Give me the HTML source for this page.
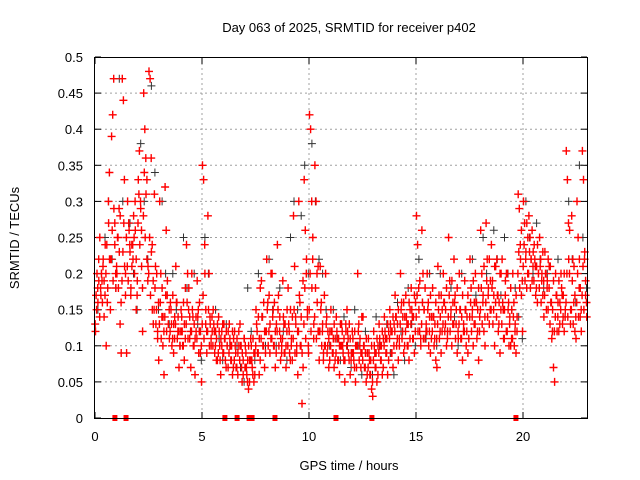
<!DOCTYPE html>
<html><head><meta charset="utf-8"><style>
body{margin:0;background:#fff}
svg{display:block;font-family:"Liberation Sans",sans-serif}
</style></head><body>
<svg id="chart" width="640" height="480" viewBox="0 0 640 480">
<rect width="640" height="480" fill="#fff"/>
<text x="349" y="32" font-size="13" text-anchor="middle">Day 063 of 2025, SRMTID for receiver p402</text>
<text transform="translate(19,238) rotate(-90)" font-size="13" text-anchor="middle">SRMTID / TECUs</text>
<text x="349" y="470" font-size="13" text-anchor="middle">GPS time / hours</text>
<g id="grid"></g><g id="axes"></g><g id="black"></g><g id="red"></g><g id="zeros"></g>
<rect x="94.5" y="57.5" width="493" height="361" fill="none" stroke="#000"/>
</svg>
<script>
const xTicks=[0,5,10,15,20];
const yTicks=[0,0.05,0.1,0.15,0.2,0.25,0.3,0.35,0.4,0.45,0.5];
const yTickLabels=["0","0.05","0.1","0.15","0.2","0.25","0.3","0.35","0.4","0.45","0.5"];
const redVals=[[0.12,0.15,0.18,0.22,0.25],[0.17,0.19,0.21,0.14,0.24],[0.1,0.16,0.3,0.34,0.22],[0.39,0.42,0.47,0.27,0.18],[0.2,0.25,0.29,0.13,0.09],[0.47,0.44,0.33,0.2,0.09],[0.3,0.27,0.24,0.17,0.21],[0.22,0.25,0.3,0.15,0.19],[0.33,0.37,0.3,0.26,0.12],[0.45,0.4,0.36,0.33,0.21],[0.48,0.47,0.36,0.24,0.13],[0.31,0.21,0.15,0.12,0.08],[0.3,0.2,0.14,0.1,0.06],[0.32,0.26,0.17,0.13,0.11],[0.16,0.13,0.11,0.09,0.14],[0.21,0.16,0.12,0.07,0.1],[0.15,0.12,0.1,0.08,0.18],[0.24,0.2,0.15,0.11,0.07],[0.2,0.14,0.1,0.06,0.12],[0.19,0.15,0.12,0.09,0.05],[0.35,0.33,0.24,0.13,0.09],[0.28,0.2,0.14,0.1,0.12],[0.15,0.12,0.1,0.08,0.13],[0.14,0.1,0.06,0.12,0.09],[0.13,0.11,0.07,0.1,0.12],[0.13,0.1,0.08,0.06,0.11],[0.12,0.09,0.07,0.06,0.1],[0.13,0.1,0.05,0.08,0.11],[0.1,0.07,0.05,0.04,0.08],[0.11,0.08,0.06,0.05,0.09],[0.15,0.12,0.09,0.06,0.18],[0.19,0.14,0.1,0.07,0.12],[0.22,0.16,0.12,0.09,0.2],[0.2,0.15,0.1,0.07,0.13],[0.24,0.17,0.12,0.08,0.1],[0.19,0.13,0.09,0.07,0.15],[0.18,0.12,0.08,0.1,0.14],[0.28,0.21,0.14,0.09,0.06],[0.3,0.16,0.1,0.02,0.07],[0.33,0.26,0.2,0.14,0.09],[0.42,0.4,0.3,0.22,0.13],[0.35,0.3,0.2,0.12,0.08],[0.21,0.16,0.12,0.08,0.1],[0.2,0.14,0.1,0.07,0.12],[0.15,0.12,0.09,0.07,0.11],[0.14,0.11,0.08,0.06,0.1],[0.13,0.1,0.08,0.05,0.12],[0.15,0.11,0.08,0.06,0.09],[0.12,0.09,0.07,0.05,0.1],[0.2,0.13,0.1,0.07,0.09],[0.14,0.1,0.07,0.05,0.09],[0.11,0.08,0.06,0.04,0.03],[0.12,0.09,0.07,0.05,0.1],[0.13,0.1,0.08,0.06,0.11],[0.14,0.11,0.09,0.06,0.12],[0.15,0.12,0.09,0.07,0.13],[0.17,0.14,0.11,0.08,0.1],[0.2,0.16,0.12,0.09,0.14],[0.17,0.13,0.1,0.08,0.15],[0.18,0.14,0.11,0.09,0.16],[0.28,0.24,0.18,0.12,0.1],[0.26,0.2,0.15,0.11,0.13],[0.2,0.16,0.12,0.09,0.14],[0.18,0.14,0.11,0.08,0.07],[0.21,0.17,0.12,0.09,0.15],[0.2,0.16,0.13,0.1,0.12],[0.25,0.19,0.14,0.1,0.16],[0.22,0.17,0.13,0.09,0.11],[0.2,0.15,0.11,0.08,0.13],[0.19,0.15,0.12,0.09,0.06],[0.22,0.18,0.14,0.1,0.16],[0.2,0.16,0.12,0.08,0.14],[0.26,0.2,0.16,0.12,0.1],[0.27,0.22,0.17,0.13,0.19],[0.24,0.19,0.15,0.1,0.21],[0.22,0.17,0.13,0.09,0.2],[0.22,0.15,0.11,0.17,0.2],[0.2,0.16,0.13,0.1,0.15],[0.2,0.16,0.12,0.09,0.14],[0.31,0.29,0.24,0.17,0.12],[0.3,0.27,0.22,0.18,0.25],[0.28,0.25,0.22,0.19,0.23],[0.24,0.21,0.18,0.16,0.2],[0.25,0.22,0.19,0.17,0.14],[0.23,0.2,0.18,0.15,0.21],[0.21,0.16,0.12,0.07,0.05],[0.2,0.17,0.14,0.12,0.16],[0.2,0.17,0.14,0.12,0.15],[0.37,0.33,0.27,0.2,0.15],[0.28,0.22,0.16,0.12,0.11],[0.3,0.25,0.18,0.14,0.12],[0.37,0.33,0.22,0.17,0.14]];
const redVals2=[[0.13,0.17,0.2,0.16,0.19,0.14],[0.18,0.2,0.16,0.22,0.19,0.17],[0.2,0.24,0.18,0.27,0.22,0.15],[0.22,0.26,0.19,0.29,0.24,0.2],[0.21,0.25,0.18,0.23,0.28,0.16],[0.19,0.23,0.27,0.21,0.17,0.25],[0.21,0.19,0.26,0.23,0.18,0.24],[0.24,0.28,0.2,0.26,0.22,0.17],[0.27,0.31,0.24,0.29,0.21,0.18],[0.28,0.34,0.25,0.31,0.22,0.19],[0.2,0.25,0.17,0.23,0.15,0.19],[0.15,0.18,0.13,0.2,0.11,0.16],[0.13,0.16,0.11,0.18,0.14,0.12],[0.14,0.17,0.12,0.19,0.13,0.15],[0.12,0.15,0.1,0.17,0.13,0.11],[0.13,0.16,0.11,0.14,0.12,0.1],[0.12,0.14,0.1,0.16,0.13,0.11],[0.13,0.16,0.11,0.18,0.14,0.12],[0.12,0.15,0.1,0.13,0.11,0.14],[0.11,0.14,0.09,0.16,0.12,0.1],[0.13,0.17,0.11,0.2,0.15,0.12],[0.12,0.15,0.1,0.13,0.11,0.14],[0.1,0.13,0.09,0.12,0.11,0.08],[0.09,0.12,0.08,0.11,0.1,0.13],[0.09,0.11,0.08,0.12,0.1,0.07],[0.09,0.11,0.08,0.1,0.12,0.07],[0.08,0.1,0.07,0.11,0.09,0.12],[0.08,0.1,0.07,0.09,0.06,0.11],[0.07,0.09,0.06,0.08,0.1,0.05],[0.08,0.1,0.07,0.11,0.09,0.06],[0.1,0.13,0.09,0.14,0.11,0.08],[0.11,0.14,0.1,0.16,0.12,0.09],[0.12,0.15,0.1,0.17,0.13,0.11],[0.11,0.14,0.1,0.16,0.12,0.09],[0.12,0.15,0.1,0.14,0.11,0.09],[0.11,0.14,0.09,0.13,0.1,0.12],[0.1,0.13,0.09,0.15,0.11,0.08],[0.11,0.15,0.09,0.13,0.1,0.12],[0.12,0.17,0.1,0.14,0.09,0.19],[0.13,0.18,0.11,0.22,0.15,0.1],[0.15,0.2,0.12,0.18,0.25,0.11],[0.14,0.18,0.11,0.16,0.21,0.12],[0.12,0.15,0.1,0.13,0.09,0.17],[0.1,0.13,0.09,0.12,0.11,0.08],[0.1,0.12,0.09,0.11,0.13,0.08],[0.09,0.12,0.08,0.11,0.1,0.13],[0.1,0.12,0.09,0.11,0.08,0.13],[0.1,0.12,0.09,0.13,0.11,0.08],[0.09,0.11,0.08,0.12,0.1,0.07],[0.1,0.12,0.08,0.11,0.09,0.14],[0.08,0.1,0.07,0.09,0.11,0.06],[0.07,0.09,0.06,0.08,0.1,0.05],[0.08,0.1,0.07,0.09,0.11,0.06],[0.09,0.11,0.08,0.1,0.12,0.07],[0.1,0.12,0.09,0.11,0.13,0.08],[0.11,0.13,0.09,0.12,0.14,0.1],[0.12,0.14,0.1,0.13,0.15,0.11],[0.13,0.15,0.11,0.14,0.16,0.1],[0.12,0.14,0.1,0.13,0.16,0.11],[0.13,0.15,0.11,0.14,0.17,0.12],[0.14,0.17,0.12,0.15,0.19,0.11],[0.13,0.16,0.11,0.15,0.18,0.12],[0.12,0.15,0.1,0.14,0.17,0.11],[0.12,0.14,0.1,0.13,0.16,0.11],[0.13,0.15,0.11,0.14,0.17,0.12],[0.13,0.16,0.12,0.15,0.18,0.11],[0.14,0.17,0.12,0.15,0.19,0.13],[0.13,0.16,0.11,0.15,0.18,0.12],[0.13,0.15,0.11,0.14,0.17,0.12],[0.12,0.15,0.1,0.14,0.17,0.11],[0.14,0.16,0.12,0.15,0.19,0.13],[0.13,0.16,0.11,0.15,0.18,0.12],[0.15,0.18,0.13,0.17,0.21,0.14],[0.16,0.19,0.14,0.18,0.22,0.15],[0.15,0.18,0.13,0.17,0.21,0.16],[0.14,0.17,0.12,0.16,0.2,0.15],[0.13,0.16,0.11,0.15,0.19,0.12],[0.12,0.15,0.1,0.14,0.18,0.11],[0.11,0.14,0.1,0.13,0.17,0.12],[0.2,0.23,0.18,0.22,0.26,0.19],[0.21,0.24,0.19,0.23,0.27,0.2],[0.2,0.23,0.18,0.22,0.26,0.21],[0.19,0.22,0.17,0.21,0.24,0.2],[0.18,0.21,0.16,0.2,0.23,0.19],[0.17,0.2,0.15,0.19,0.22,0.18],[0.13,0.16,0.11,0.15,0.19,0.12],[0.14,0.17,0.12,0.16,0.19,0.13],[0.15,0.18,0.13,0.17,0.2,0.14],[0.16,0.2,0.14,0.22,0.26,0.13],[0.15,0.19,0.13,0.21,0.17,0.14],[0.16,0.2,0.14,0.22,0.18,0.15],[0.17,0.21,0.15,0.23,0.19,0.16]];
const blackVals=[[0.15,0.2,0.25],[0.3,0.22,0.18],[0.47,0.3,0.25],[0.27,0.2,0.15],[0.38,0.3,0.22],[0.46,0.34,0.15],[0.3,0.2,0.13],[0.2,0.15,0.1],[0.25,0.18,0.12],[0.2,0.13,0.08],[0.25,0.2,0.12],[0.15,0.11,0.08],[0.13,0.1,0.07],[0.1,0.07,0.05],[0.18,0.12,0.08],[0.2,0.14,0.1],[0.22,0.15,0.1],[0.18,0.12,0.08],[0.25,0.3,0.15],[0.28,0.35,0.2],[0.38,0.3,0.22],[0.2,0.15,0.1],[0.15,0.11,0.08],[0.14,0.1,0.07],[0.15,0.1,0.06],[0.12,0.09,0.06],[0.14,0.1,0.07],[0.13,0.09,0.06],[0.16,0.12,0.08],[0.18,0.13,0.1],[0.22,0.16,0.11],[0.2,0.14,0.1],[0.2,0.16,0.12],[0.18,0.14,0.1],[0.2,0.15,0.11],[0.22,0.17,0.12],[0.25,0.2,0.15],[0.26,0.22,0.17],[0.25,0.2,0.15],[0.18,0.14,0.11],[0.3,0.25,0.2],[0.27,0.22,0.18],[0.2,0.16,0.12],[0.22,0.18,0.14],[0.3,0.22,0.16],[0.35,0.25,0.18]];
const zeroHours=[0.93,1.45,6.07,6.64,7.2,7.34,8.41,11.26,12.94,19.67];
const redBin=0.25, blackBin=0.5;
const X0=95,PXH=21.4,Y0=418,PXV=722;
const xs=h=>X0+h*PXH, ys=v=>Y0-v*PXV;
const NS="http://www.w3.org/2000/svg";
function mk(tag,attrs,parent){const e=document.createElementNS(NS,tag);for(const k in attrs)e.setAttribute(k,attrs[k]);document.getElementById(parent).appendChild(e);return e;}
yTicks.forEach((v,i)=>{const y=ys(v);
 if(i>0&&i<yTicks.length-1){const g=mk('line',{x1:95,x2:587,y1:y,y2:y,stroke:'#a0a0a0','stroke-dasharray':'2,3'},'grid');
 
 }
 const t=mk('text',{x:83,y:y+5,'font-size':13,'text-anchor':'end'},'axes');t.textContent=yTickLabels[i];
 
 
 mk('line',{x1:95,x2:101,y1:y,y2:y,stroke:'#000'},'axes');mk('line',{x1:581,x2:587,y1:y,y2:y,stroke:'#000'},'axes');});
xTicks.forEach(h=>{const x=xs(h);
 if(h>0){const g=mk('line',{x1:x,x2:x,y1:58,y2:418,stroke:'#a0a0a0','stroke-dasharray':'2,3'},'grid');
 
 }
 const t=mk('text',{x:x,y:441,'font-size':13,'text-anchor':'middle'},'axes');t.textContent=String(h);
 
 
 mk('line',{x1:x,x2:x,y1:412,y2:418,stroke:'#000'},'axes');mk('line',{x1:x,x2:x,y1:58,y2:64,stroke:'#000'},'axes');});
function plus(x,y){return `M${(x-4).toFixed(1)} ${y.toFixed(1)}h8M${x.toFixed(1)} ${(y-4).toFixed(1)}v8`;}
let d='';
blackVals.forEach((arr,i)=>arr.forEach((v,j)=>{d+=plus(xs(i*blackBin+(j+0.5)*blackBin/arr.length+0.05),ys(v));}));
const bp=mk('path',{d:d,stroke:'#333',fill:'none','stroke-width':1},'black');


d='';
redVals.forEach((arr,i)=>arr.forEach((v,j)=>{d+=plus(xs(i*redBin+(j+0.5)*redBin/arr.length),ys(v));}));
redVals2.forEach((arr,i)=>arr.forEach((v,j)=>{d+=plus(xs(i*redBin+(j+0.25)*redBin/arr.length),ys(v));}));
const rp=mk('path',{d:d,stroke:'#ff0000',fill:'none','stroke-width':1.4},'red');


zeroHours.forEach(h=>{const r=mk('rect',{x:xs(h)-2.5,y:415,width:5,height:6,fill:'#ff0000'},'zeros');
 
 });
</script>
</body></html>
